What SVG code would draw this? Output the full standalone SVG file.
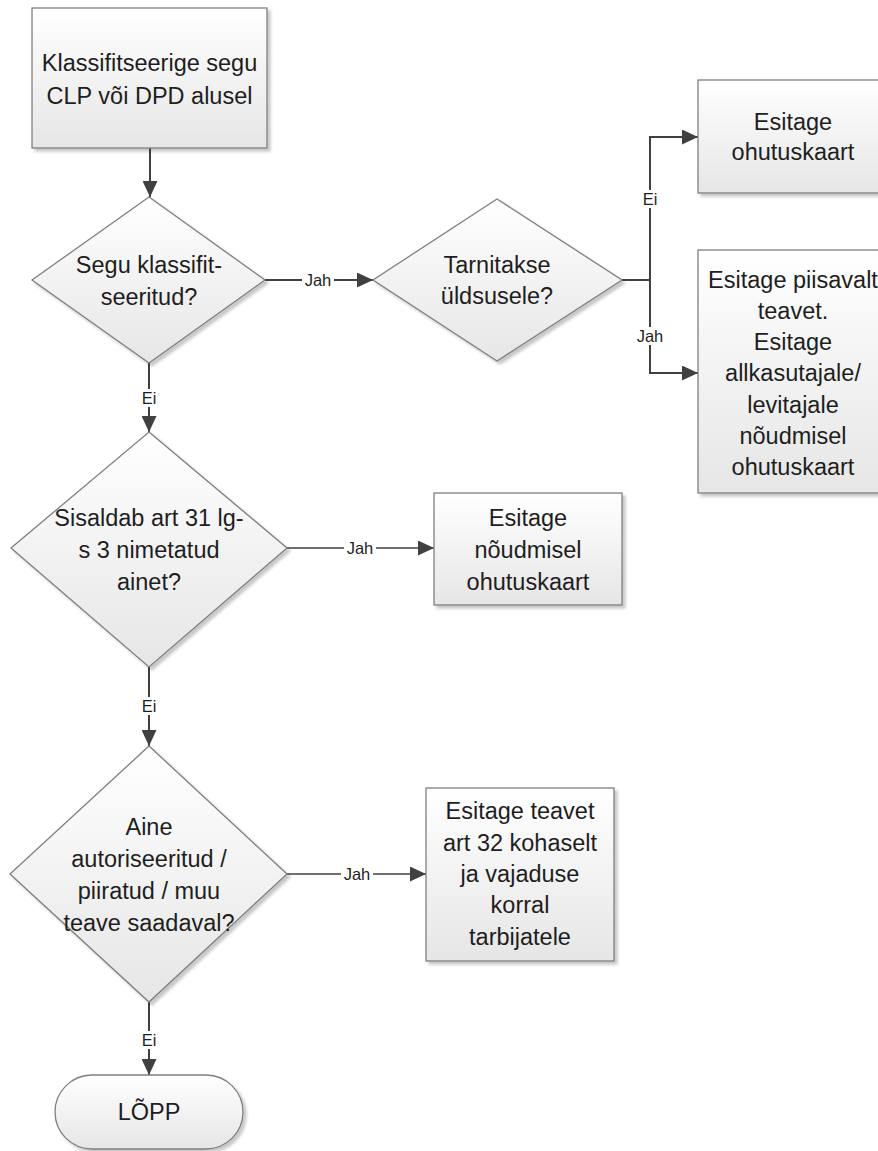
<svg xmlns="http://www.w3.org/2000/svg" width="878" height="1151" viewBox="0 0 878 1151">
<style>
.shape{fill:url(#g);stroke:#7f7f7f;stroke-width:1.3;filter:url(#sh)}
.t{font-family:"Liberation Sans",Arial,sans-serif;font-size:23.5px;fill:#1e1e1e;text-anchor:middle}
.c{fill:none;stroke:#404040;stroke-width:2}
.cl{fill:none;stroke:#404040;stroke-width:1.6}
.lb{font-family:"Liberation Sans",Arial,sans-serif;font-size:16.5px;fill:#1e1e1e;text-anchor:middle}
.bg{fill:#ffffff}
</style>
<defs>
<linearGradient id="g" x1="0" y1="0" x2="0" y2="1">
<stop offset="0" stop-color="#ffffff"/>
<stop offset="1" stop-color="#e6e6e6"/>
</linearGradient>
<filter id="sh" x="-10%" y="-10%" width="130%" height="130%">
<feDropShadow dx="3" dy="3" stdDeviation="1.5" flood-color="#000" flood-opacity="0.22"/>
</filter>
<marker id="a" markerUnits="userSpaceOnUse" markerWidth="17" markerHeight="15" refX="16" refY="7.5" orient="auto">
<path d="M0,0 L16,7.5 L0,15 z" fill="#404040"/>
</marker>
</defs>
<rect width="878" height="1151" fill="#ffffff"/>

<g id="connectors">
<path class="c" d="M150,148 V197" marker-end="url(#a)"/>
<path class="c" d="M265,280 H373" marker-end="url(#a)"/>
<path class="c" d="M149,363 V432" marker-end="url(#a)"/>
<path class="c" d="M622,280 H650 V137 H698" marker-end="url(#a)"/>
<path class="c" d="M650,280 V373 H698" marker-end="url(#a)"/>
<path class="cl" d="M287,548 H434" marker-end="url(#a)"/>
<path class="c" d="M149,667 V746" marker-end="url(#a)"/>
<path class="cl" d="M287,874 H426" marker-end="url(#a)"/>
<path class="c" d="M149,1002 V1075" marker-end="url(#a)"/>
<rect class="bg" x="302" y="271" width="32" height="18"/>
<text class="lb" x="318" y="286">Jah</text>
<rect class="bg" x="140" y="389" width="19" height="18"/>
<text class="lb" x="149" y="404">Ei</text>
<rect class="bg" x="641" y="190" width="19" height="18"/>
<text class="lb" x="650" y="205">Ei</text>
<rect class="bg" x="634" y="327" width="32" height="18"/>
<text class="lb" x="650" y="342">Jah</text>
<rect class="bg" x="344" y="539" width="32" height="18"/>
<text class="lb" x="360" y="554">Jah</text>
<rect class="bg" x="140" y="697" width="19" height="18"/>
<text class="lb" x="149" y="712">Ei</text>
<rect class="bg" x="341" y="865" width="32" height="18"/>
<text class="lb" x="357" y="880">Jah</text>
<rect class="bg" x="140" y="1031" width="19" height="18"/>
<text class="lb" x="149" y="1046">Ei</text>
</g>

<g id="n_start">
<rect class="shape" x="32" y="8" width="235" height="140"/>
<text class="t" x="149.5" y="71">Klassifitseerige segu</text>
<text class="t" x="149.5" y="104">CLP või DPD alusel</text>
</g>

<g id="n_d1">
<polygon class="shape" points="149,197 265,280 149,363 32,280"/>
<text class="t" x="149" y="273">Segu klassifit-</text>
<text class="t" x="149" y="305">seeritud?</text>
</g>

<g id="n_d2">
<polygon class="shape" points="497,199 622,280 497,361 373,280"/>
<text class="t" x="497" y="273">Tarnitakse</text>
<text class="t" x="497" y="304">üldsusele?</text>
</g>

<g id="n_box1">
<rect class="shape" x="698" y="80" width="190" height="113"/>
<text class="t" x="793" y="130">Esitage</text>
<text class="t" x="793" y="160">ohutuskaart</text>
</g>

<g id="n_box2">
<rect class="shape" x="698" y="250" width="190" height="243"/>
<text class="t" x="793" y="288">Esitage piisavalt</text>
<text class="t" x="793" y="319">teavet.</text>
<text class="t" x="793" y="350">Esitage</text>
<text class="t" x="793" y="381">allkasutajale/</text>
<text class="t" x="793" y="413">levitajale</text>
<text class="t" x="793" y="444">nõudmisel</text>
<text class="t" x="793" y="475">ohutuskaart</text>
</g>

<g id="n_d3">
<polygon class="shape" points="149,432 287,548 149,667 11,548"/>
<text class="t" x="149" y="526">Sisaldab art 31 lg-</text>
<text class="t" x="149" y="558">s 3 nimetatud</text>
<text class="t" x="149" y="590">ainet?</text>
</g>

<g id="n_box3">
<rect class="shape" x="434" y="493" width="188" height="112"/>
<text class="t" x="528" y="526">Esitage</text>
<text class="t" x="528" y="558">nõudmisel</text>
<text class="t" x="528" y="590">ohutuskaart</text>
</g>

<g id="n_d4">
<polygon class="shape" points="149,746 287,874 149,1002 10,874"/>
<text class="t" x="149" y="835">Aine</text>
<text class="t" x="149" y="867">autoriseeritud /</text>
<text class="t" x="149" y="899">piiratud / muu</text>
<text class="t" x="149" y="931">teave saadaval?</text>
</g>

<g id="n_box4">
<rect class="shape" x="426" y="788" width="188" height="173"/>
<text class="t" x="520" y="819">Esitage teavet</text>
<text class="t" x="520" y="851">art 32 kohaselt</text>
<text class="t" x="520" y="882">ja vajaduse</text>
<text class="t" x="520" y="913">korral</text>
<text class="t" x="520" y="945">tarbijatele</text>
</g>

<g id="n_end">
<rect class="shape" x="55" y="1075" width="188" height="74" rx="37" ry="37"/>
<text class="t" x="149" y="1120">LÕPP</text>
</g>
</svg>
